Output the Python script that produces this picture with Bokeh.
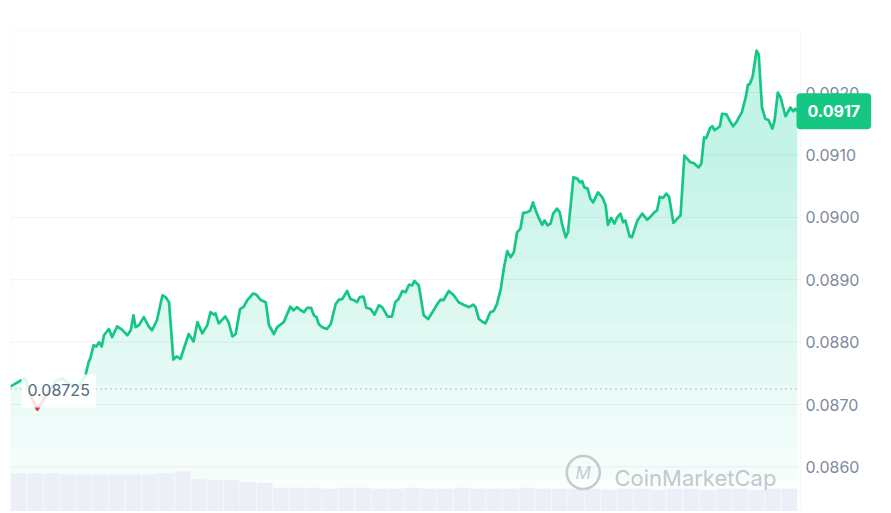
import numpy as np
from bokeh.plotting import figure
from bokeh.models import (Range1d, Label, LabelSet, BoxAnnotation, ColumnDataSource)
from bokeh.core.properties import value
from bokeh.embed import file_html
from bokeh.resources import INLINE

# ---------------- data ----------------
minutes = [0, 18, 27, 37, 49, 64, 82, 95, 110, 124, 137, 143, 146, 152, 157, 162, 167, 171, 180, 186,
           195, 204, 214, 220, 225, 229, 235, 244, 253, 259, 268, 278, 284, 290, 298, 304, 311, 326, 335, 342,
           351, 360, 366, 372, 375, 381, 393, 399, 406, 412, 420, 427, 433, 444, 450, 457, 467, 473, 482, 488,
           500, 512, 518, 524, 531, 537, 543, 550, 555, 560, 564, 570, 579, 586, 595, 601, 607, 616, 622, 629,
           634, 639, 646, 651, 659, 666, 674, 680, 690, 698, 704, 710, 717, 723, 729, 735, 739, 747, 756, 764,
           772, 781, 787, 792, 802, 811, 820, 829, 839, 847, 851, 857, 863, 869, 878, 884, 890, 897, 903, 909,
           915, 921, 927, 933, 938, 945, 951, 956, 961, 967, 973, 977, 983, 988, 993, 1000, 1005, 1009, 1016, 1020,
           1030, 1037, 1042, 1046, 1050, 1056, 1061, 1066, 1075, 1083, 1089, 1093, 1099, 1105, 1110, 1116, 1121, 1125, 1133, 1137,
           1147, 1156, 1165, 1171, 1178, 1183, 1188, 1194, 1200, 1205, 1213, 1220, 1226, 1233, 1238, 1244, 1250, 1259, 1264, 1269,
           1273, 1280, 1284, 1288, 1294, 1298, 1302, 1310, 1316, 1322, 1328, 1332, 1338, 1346, 1349, 1353, 1358, 1365, 1369, 1375,
           1381, 1387, 1394, 1398, 1404, 1409, 1418, 1427, 1432, 1436, 1440]
prices = [0.08729, 0.08738, 0.08742, 0.08714, 0.08692, 0.08713, 0.08737, 0.08742, 0.08732, 0.08729,
          0.08746, 0.08768, 0.08774, 0.08795, 0.08793, 0.08800, 0.08793, 0.08811, 0.08821, 0.08808,
          0.08825, 0.08820, 0.08811, 0.08819, 0.08843, 0.08824, 0.08827, 0.08840, 0.08825, 0.08819,
          0.08835, 0.08875, 0.08872, 0.08864, 0.08772, 0.08777, 0.08773, 0.08813, 0.08801, 0.08832,
          0.08814, 0.08827, 0.08848, 0.08844, 0.08846, 0.08830, 0.08841, 0.08832, 0.08809, 0.08813,
          0.08853, 0.08857, 0.08867, 0.08878, 0.08876, 0.08868, 0.08864, 0.08827, 0.08813, 0.08824,
          0.08832, 0.08857, 0.08851, 0.08856, 0.08851, 0.08848, 0.08855, 0.08855, 0.08843, 0.08840,
          0.08829, 0.08824, 0.08821, 0.08829, 0.08861, 0.08868, 0.08869, 0.08882, 0.08869, 0.08867,
          0.08864, 0.08872, 0.08873, 0.08855, 0.08853, 0.08844, 0.08859, 0.08856, 0.08841, 0.08841,
          0.08864, 0.08869, 0.08882, 0.08880, 0.08892, 0.08891, 0.08898, 0.08891, 0.08843, 0.08837,
          0.08848, 0.08861, 0.08868, 0.08867, 0.08882, 0.08875, 0.08864, 0.08860, 0.08856, 0.08860,
          0.08856, 0.08837, 0.08833, 0.08830, 0.08848, 0.08850, 0.08861, 0.08885, 0.08920, 0.08946,
          0.08936, 0.08944, 0.08976, 0.08982, 0.09007, 0.09008, 0.09011, 0.09024, 0.09011, 0.08998,
          0.08988, 0.08995, 0.08987, 0.08990, 0.09006, 0.09014, 0.09008, 0.08990, 0.08968, 0.08976,
          0.09064, 0.09062, 0.09056, 0.09058, 0.09048, 0.09046, 0.09030, 0.09024, 0.09040, 0.09032,
          0.09019, 0.08988, 0.08999, 0.08990, 0.09000, 0.09006, 0.08992, 0.08995, 0.08969, 0.08968,
          0.08995, 0.09006, 0.08996, 0.09001, 0.09008, 0.09011, 0.09033, 0.09031, 0.09038, 0.09033,
          0.08991, 0.08998, 0.09003, 0.09099, 0.09094, 0.09088, 0.09087, 0.09080, 0.09086, 0.09128,
          0.09127, 0.09143, 0.09146, 0.09140, 0.09143, 0.09146, 0.09166, 0.09165, 0.09155, 0.09146,
          0.09152, 0.09159, 0.09168, 0.09195, 0.09212, 0.09214, 0.09226, 0.09267, 0.09261, 0.09176,
          0.09158, 0.09156, 0.09142, 0.09155, 0.09200, 0.09192, 0.09162, 0.09176, 0.09170, 0.09174,
          0.09170]

baseline_price = 0.08725
baseline_label = "0.08725"
last_price = 0.0917
last_label = "0.0917"

tick_values = [0.0860, 0.0870, 0.0880, 0.0890, 0.0900, 0.0910, 0.0920]
tick_labels = ["0.0860", "0.0870", "0.0880", "0.0890", "0.0900", "0.0910", "0.0920"]

vol_minutes = [15 + 30 * i for i in range(48)]
volumes = [40, 40, 40, 39, 39, 39, 39, 39, 39, 40, 42, 34, 33, 33, 31, 30, 25,
           25, 25, 24, 25, 25, 24, 24, 25, 24, 24, 25, 24, 24, 24, 25, 24, 24, 24,
           24, 23, 24, 24, 23, 24, 24, 23, 24, 24, 23, 24, 24]

watermark = "CoinMarketCap"

# ---------------- layout / styling ----------------
GREEN = "#16c784"
RED = "#ea3943"
FONT = "Inter"
CHART_END = 1445.5          # right edge of the chart box (time axis units)
Y_TOP, Y_BOTTOM = 0.092994, 0.0852853

# the frame spans the whole width so that the price tag and price labels on the
# right are drawn inside it; the chart box itself is drawn as an annotation
p = figure(width=889, height=511, output_backend="svg", toolbar_location=None,
           x_axis_location=None, y_axis_location=None,
           x_range=Range1d(0, 1608.3), y_range=Range1d(Y_BOTTOM, Y_TOP),
           min_border_left=10, min_border_top=30, min_border_bottom=0, min_border_right=0,
           background_fill_color="white", border_fill_color="white")
p.outline_line_color = None
p.xgrid.visible = False
p.ygrid.visible = False

p.extra_y_ranges = {"vol": Range1d(0, 500)}

# horizontal grid lines at the price ticks, within the chart box
p.segment(x0=0, x1=CHART_END, y0=tick_values, y1=tick_values,
          line_color="#eff2f5", line_width=1)

# gradient-like area fill under the price line
prices_arr = np.array(prices)
for level in np.arange(0.0853, 0.0911, 0.0005):
    p.varea(x=minutes, y1=np.full(len(prices), level), y2=np.maximum(prices_arr, level),
            fill_color=GREEN, fill_alpha=0.02)

# volume bars
p.vbar(x=vol_minutes, top=volumes, bottom=0, width=30, y_range_name="vol",
       fill_color="#edeff8", line_color="white", line_alpha=0.6, line_width=0.6)

# chart box border
p.add_layout(BoxAnnotation(left=0, right=CHART_END, top=Y_TOP, bottom=Y_BOTTOM,
                           fill_alpha=0, line_color="#e6e9ee", line_width=1.5))

# baseline (open price) dotted line
p.segment(x0=0, x1=CHART_END, y0=baseline_price, y1=baseline_price,
          line_color="#8a93a6", line_dash="1 4", line_width=1.3)

# price line
p.line(minutes, prices, line_color=GREEN, line_width=2.7, line_join="round", line_cap="round")
red_prices = [v if v < baseline_price else np.nan for v in prices]
p.line(minutes, red_prices, line_color=RED, line_width=2.7, line_join="round", line_cap="round")

# baseline label
p.add_layout(Label(x=20, y=baseline_price, y_offset=-2, text=baseline_label,
                   text_font=FONT, text_font_size="16px", text_color="#58667e",
                   text_baseline="middle", text_align="left",
                   background_fill_color="white", background_fill_alpha=0.85,
                   padding=dict(left=6, right=6, top=10, bottom=11)))

# watermark
p.scatter(x=[1048], y=[0.08591], marker="circle", size=33, fill_color=None,
          line_color="#c6cad2", line_width=2.6)
p.add_layout(Label(x=1048, y=0.08591, text="M", text_font=FONT, text_font_size="17px",
                   text_font_style="italic", text_color="#c6cad2",
                   text_align="center", text_baseline="middle"))
p.add_layout(Label(x=1105, y=0.08583, text=watermark, text_font=FONT, text_font_size="22px",
                   text_color="#c3c7cf", text_align="left", text_baseline="middle"))

# price scale labels on the right
tick_src = ColumnDataSource(dict(x=[CHART_END] * len(tick_values), y=tick_values, text=tick_labels))
p.add_layout(LabelSet(x="x", y="y", text="text", source=tick_src, x_offset=5,
                      text_font=value(FONT), text_font_size=value("16px"),
                      text_color=value("#808a9d"),
                      text_align=value("left"), text_baseline=value("middle")))

# last price tag
p.add_layout(Label(x=CHART_END, x_offset=-4, y=last_price, text=last_label,
                   text_font=FONT, text_font_size="16px", text_font_style="bold",
                   text_color="white", text_baseline="middle", text_align="left",
                   background_fill_color=GREEN, background_fill_alpha=1.0,
                   padding=dict(left=11, right=11, top=12, bottom=12), border_radius=4))

open("out.html", "w").write(file_html(p, INLINE))
